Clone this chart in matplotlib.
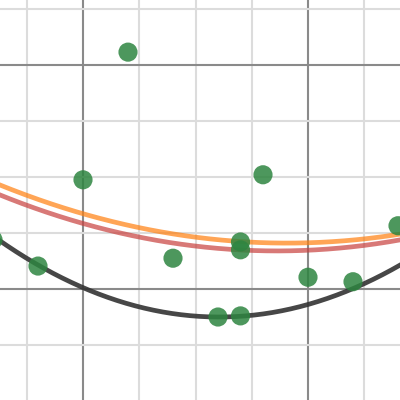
import matplotlib
matplotlib.use('Agg')
import matplotlib.pyplot as plt
import numpy as np

# scatter points
x_points = [-1.6, -0.8, 0.0, 0.8, 1.6, 2.4, 2.8, 2.8, 2.8, 3.2, 4.0, 4.8, 5.6]
y_points = [0.88, 0.41, 1.95, 4.23, 0.55, -0.5, -0.48, 0.84, 0.70, 2.04, 0.21, 0.13, 1.13]

# curves as vertex form: y = k + a * (x - h)^2
curve_names = ['true', 'fit_a', 'fit_b']
curve_h = [2.42, 3.63, 3.45]
curve_k = [-0.5, 0.82, 0.68]
curve_a = [0.0896, 0.0398, 0.0412]
curve_colors = ['#333333', '#ff7f0e', '#c8403d']
curve_alpha = [0.9, 0.7, 0.7]

fig = plt.figure(figsize=(4, 4), dpi=100)
ax = fig.add_axes([0, 0, 1, 1])

x_min, x_max = -1.4756, 5.6356
y_min, y_max = -1.982, 5.161

# grid: light lines every unit, darker ones every 4 units
for gx in range(-1, 6):
    color = '#8a8a8a' if gx % 4 == 0 else '#dcdcdc'
    ax.axvline(gx, color=color, lw=1.5, zorder=0)
for gy in range(-1, 6):
    color = '#8a8a8a' if gy % 4 == 0 else '#dcdcdc'
    ax.axhline(gy, color=color, lw=1.5, zorder=0)

xs = np.linspace(x_min - 0.5, x_max + 0.5, 300)
order = [2, 1, 0]
for i in order:
    ys = curve_k[i] + curve_a[i] * (xs - curve_h[i]) ** 2
    ax.plot(xs, ys, color=curve_colors[i], alpha=curve_alpha[i], lw=3.4, zorder=2)

ax.scatter(x_points, y_points, s=190, color='#2e8540', alpha=0.85, edgecolors='none', zorder=3)

ax.set_xlim(x_min, x_max)
ax.set_ylim(y_min, y_max)
ax.set_xticks([])
ax.set_yticks([])
for spine in ax.spines.values():
    spine.set_visible(False)

plt.savefig('out.png', dpi=100)
